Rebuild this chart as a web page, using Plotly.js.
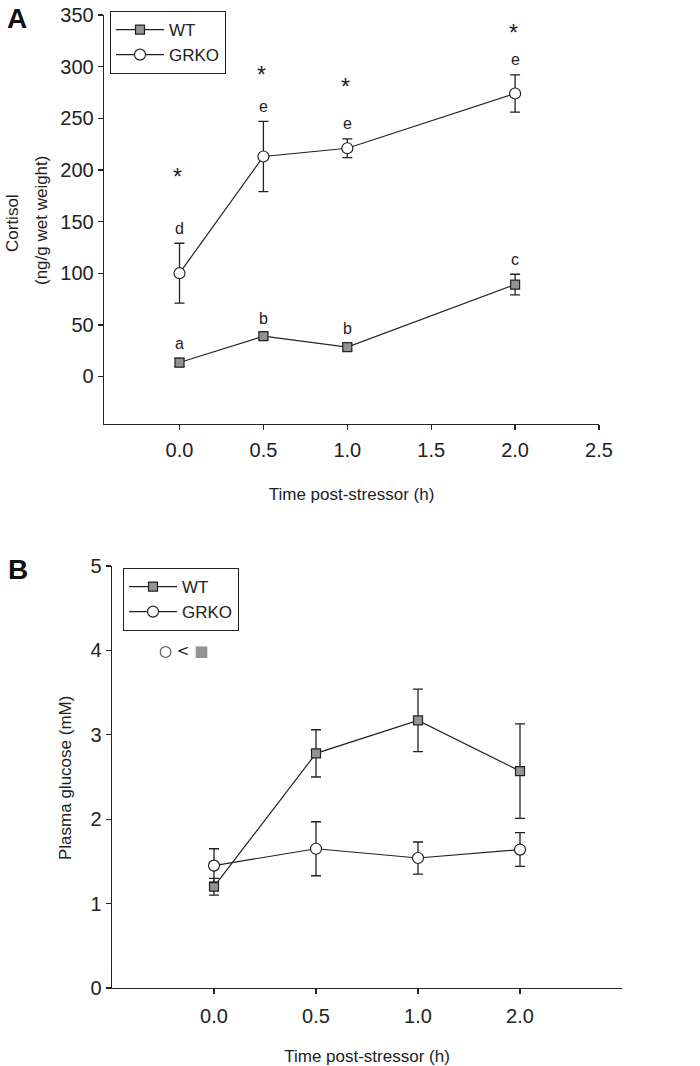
<!DOCTYPE html>
<html>
<head>
<meta charset="utf-8">
<script src="https://cdn.plot.ly/plotly-3.0.1.min.js"></script>
<style>html,body{margin:0;padding:0;background:#fff;}#chart{width:700px;height:1066px;}</style>
</head>
<body>
<div id="chart"></div>
<script>
// ---- Panel A: cortisol ----
const timesA = [0.0, 0.5, 1.0, 2.0];
const wtCort = [13.5, 39, 28.5, 89];
const wtCortErr = [4, 3, 3, 10];
const grkoCort = [100, 213, 221, 274];
const grkoCortErr = [29, 34, 9, 18];
const wtLetters = ['a', 'b', 'b', 'c'];
const grkoLetters = ['d', 'e', 'e', 'e'];
const starY = [198, 297, 285, 337];
const ticksA = [0, 0.5, 1.0, 1.5, 2.0, 2.5];

// ---- Panel B: plasma glucose ----
const timeLabelsB = ['0.0', '0.5', '1.0', '2.0'];
const wtGlu = [1.2, 2.78, 3.17, 2.57];
const wtGluErr = [0.1, 0.28, 0.37, 0.56];
const grkoGlu = [1.45, 1.65, 1.54, 1.64];
const grkoGluErr = [0.2, 0.32, 0.19, 0.2];

const FONT = 'Liberation Sans, Arial, sans-serif';
const INK = '#222';
const lineStyle = {color: INK, width: 1.2};
const sqMarker = {symbol: 'square', size: 9, color: '#939393', line: {color: INK, width: 1.2}};
const ciMarker = {symbol: 'circle', size: 11, color: '#ffffff', line: {color: INK, width: 1.2}};
const errStyle = (arr) => ({type: 'data', array: arr, visible: true, color: INK, thickness: 1.3, width: 5});

const traces = [
  {x: timesA, y: wtCort, error_y: errStyle(wtCortErr), name: 'WT', mode: 'lines+markers',
   line: lineStyle, marker: sqMarker, xaxis: 'x', yaxis: 'y', legend: 'legend'},
  {x: timesA, y: grkoCort, error_y: errStyle(grkoCortErr), name: 'GRKO', mode: 'lines+markers',
   line: lineStyle, marker: ciMarker, xaxis: 'x', yaxis: 'y', legend: 'legend'},
  {x: timeLabelsB, y: wtGlu, error_y: errStyle(wtGluErr), name: 'WT', mode: 'lines+markers',
   line: lineStyle, marker: sqMarker, xaxis: 'x2', yaxis: 'y2', legend: 'legend2'},
  {x: timeLabelsB, y: grkoGlu, error_y: errStyle(grkoGluErr), name: 'GRKO', mode: 'lines+markers',
   line: lineStyle, marker: ciMarker, xaxis: 'x2', yaxis: 'y2', legend: 'legend2'}
];

const annotations = [];
timesA.forEach((t, i) => {
  annotations.push({x: t, y: wtCort[i] + wtCortErr[i], xref: 'x', yref: 'y', text: wtLetters[i],
    showarrow: false, yanchor: 'middle', yshift: 15, font: {family: FONT, size: 16, color: INK}});
  annotations.push({x: t, y: grkoCort[i] + grkoCortErr[i], xref: 'x', yref: 'y', text: grkoLetters[i],
    showarrow: false, yanchor: 'middle', yshift: 15, font: {family: FONT, size: 16, color: INK}});
  annotations.push({x: t, y: starY[i], xref: 'x', yref: 'y', text: '*', xshift: -2,
    showarrow: false, yanchor: 'middle', yshift: -5, font: {family: FONT, size: 23, color: INK}});
});
annotations.push({x: 17 / 700, y: 1 - 18 / 1066, xref: 'paper', yref: 'paper', text: '<b>A</b>',
  showarrow: false, xanchor: 'center', yanchor: 'middle', font: {family: FONT, size: 28, color: '#111'}});
annotations.push({x: 18 / 700, y: 1 - 569 / 1066, xref: 'paper', yref: 'paper', text: '<b>B</b>',
  showarrow: false, xanchor: 'center', yanchor: 'middle', font: {family: FONT, size: 28, color: '#111'}});
annotations.push({x: 12 / 700, y: 1 - 223 / 1066, xref: 'paper', yref: 'paper', text: 'Cortisol',
  textangle: -90, showarrow: false, xanchor: 'center', yanchor: 'middle', font: {family: FONT, size: 17, color: INK}});
annotations.push({x: 42 / 700, y: 1 - 221 / 1066, xref: 'paper', yref: 'paper', text: '(ng/g wet weight)',
  textangle: -90, showarrow: false, xanchor: 'center', yanchor: 'middle', font: {family: FONT, size: 17, color: INK}});
annotations.push({x: 65 / 700, y: 1 - 778 / 1066, xref: 'paper', yref: 'paper', text: 'Plasma glucose (mM)',
  textangle: -90, showarrow: false, xanchor: 'center', yanchor: 'middle', font: {family: FONT, size: 17, color: INK}});
annotations.push({x: 183 / 700, y: 1 - 651 / 1066, xref: 'paper', yref: 'paper',
  text: '○ &lt; <span style="color:#939393">■</span>',
  showarrow: false, xanchor: 'center', yanchor: 'middle', font: {family: 'DejaVu Sans, sans-serif', size: 15, color: INK}});

const axisCommon = {
  showline: true, linecolor: INK, linewidth: 1.3, ticks: 'outside', ticklen: 5, tickwidth: 1.3,
  tickcolor: INK, showgrid: false, zeroline: false, tickfont: {family: FONT, size: 20, color: INK}
};

const layout = {
  width: 700, height: 1066,
  margin: {l: 0, r: 0, t: 0, b: 0},
  paper_bgcolor: '#fff', plot_bgcolor: '#fff',
  showlegend: true,
  xaxis: Object.assign({}, axisCommon, {
    domain: [104 / 700, 599 / 700], range: [-0.45, 2.5], tickvals: ticksA, tickformat: '.1f',
    ticklabelstandoff: 3,
    anchor: 'y', title: {text: 'Time post-stressor (h)', standoff: 27, font: {family: FONT, size: 17, color: INK}}
  }),
  yaxis: Object.assign({}, axisCommon, {
    domain: [1 - 424 / 1066, 1 - 15 / 1066], range: [-46, 350], tickvals: [0, 50, 100, 150, 200, 250, 300, 350],
    anchor: 'x'
  }),
  xaxis2: Object.assign({}, axisCommon, {
    domain: [112 / 700, 622 / 700], type: 'category', range: [-1, 4],
    ticklabelstandoff: 5,
    anchor: 'y2', title: {text: 'Time post-stressor (h)', standoff: 23, font: {family: FONT, size: 17, color: INK}}
  }),
  yaxis2: Object.assign({}, axisCommon, {
    domain: [1 - 988 / 1066, 1 - 566 / 1066], range: [0, 5], tickvals: [0, 1, 2, 3, 4, 5],
    anchor: 'x2'
  }),
  legend: {x: 110 / 700, y: 1 - 11 / 1066, xanchor: 'left', yanchor: 'top', bgcolor: '#fff',
    bordercolor: INK, borderwidth: 1, itemwidth: 48, font: {family: FONT, size: 17, color: INK}},
  legend2: {x: 123 / 700, y: 1 - 568 / 1066, xanchor: 'left', yanchor: 'top', bgcolor: '#fff',
    bordercolor: INK, borderwidth: 1, itemwidth: 48, font: {family: FONT, size: 17, color: INK}},
  annotations: annotations
};

Plotly.newPlot('chart', traces, layout, {staticPlot: true, displayModeBar: false});
</script>
</body>
</html>
